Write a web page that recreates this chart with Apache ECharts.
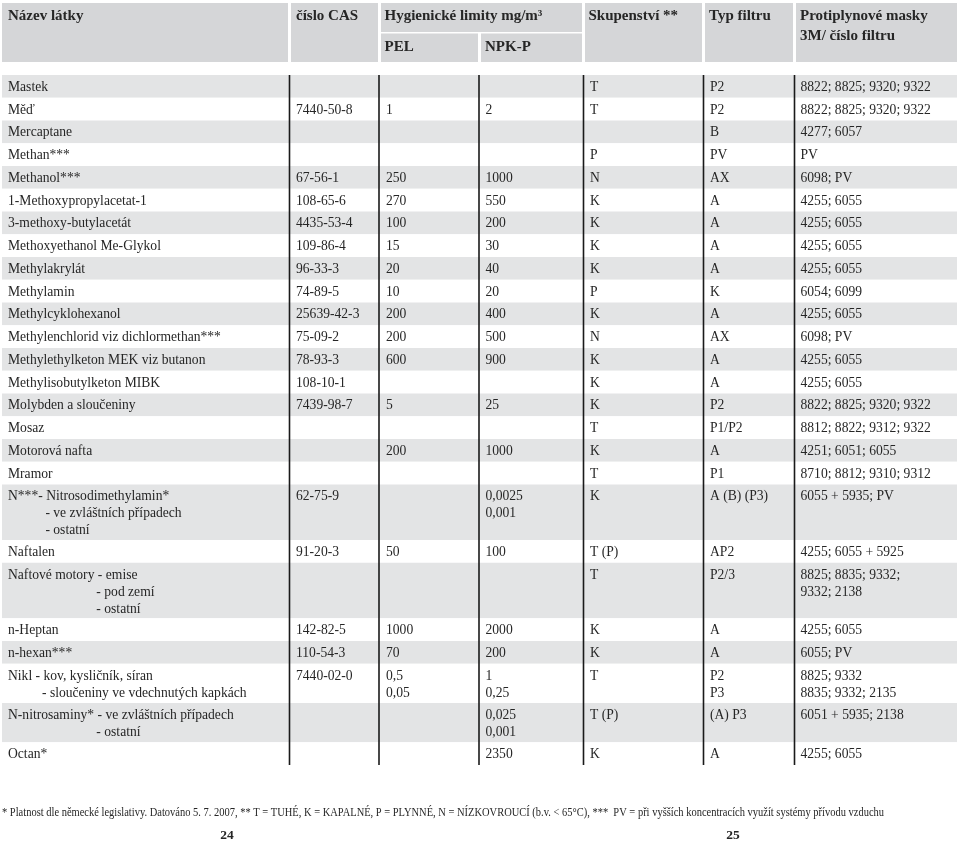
<!DOCTYPE html>
<html><head><meta charset="utf-8">
<script src="https://cdn.jsdelivr.net/npm/echarts@6/dist/echarts.min.js"></script>
<style>html,body{margin:0;padding:0;background:#fff}#c{width:960px;height:843px}</style>
</head><body><div id="c"></div>
<script>
// ---------------- DATA ----------------
const HEADER_MAIN = ["Název látky", "číslo CAS", "Hygienické limity mg/m³", "Skupenství **", "Typ filtru", "Protiplynové masky\n3M/ číslo filtru"];
const HEADER_SUB = ["PEL", "NPK-P"];

const NAMES = [
  "Mastek", "Měď", "Mercaptane", "Methan***", "Methanol***", "1-Methoxypropylacetat-1",
  "3-methoxy-butylacetát", "Methoxyethanol Me-Glykol", "Methylakrylát", "Methylamin",
  "Methylcyklohexanol", "Methylenchlorid viz dichlormethan***", "Methylethylketon MEK viz butanon",
  "Methylisobutylketon MIBK", "Molybden a sloučeniny", "Mosaz", "Motorová nafta", "Mramor",
  "N***- Nitrosodimethylamin*\n           - ve zvláštních případech\n           - ostatní",
  "Naftalen",
  "Naftové motory - emise\n                          - pod zemí\n                          - ostatní",
  "n-Heptan", "n-hexan***",
  "Nikl - kov, kysličník, síran\n          - sloučeniny ve vdechnutých kapkách",
  "N-nitrosaminy* - ve zvláštních případech\n                          - ostatní",
  "Octan*"
];
const CAS = ["", "7440-50-8", "", "", "67-56-1", "108-65-6", "4435-53-4", "109-86-4", "96-33-3", "74-89-5",
  "25639-42-3", "75-09-2", "78-93-3", "108-10-1", "7439-98-7", "", "", "", "62-75-9", "91-20-3", "",
  "142-82-5", "110-54-3", "7440-02-0", "", ""];
const PEL = ["", "1", "", "", "250", "270", "100", "15", "20", "10", "200", "200", "600", "", "5", "", "200", "",
  "", "50", "", "1000", "70", "0,5\n0,05", "", ""];
const NPK_P = ["", "2", "", "", "1000", "550", "200", "30", "40", "20", "400", "500", "900", "", "25", "", "1000", "",
  "0,0025\n0,001", "100", "", "2000", "200", "1\n0,25", "0,025\n0,001", "2350"];
const SKUPENSTVI = ["T", "T", "", "P", "N", "K", "K", "K", "K", "P", "K", "N", "K", "K", "K", "T", "K", "T",
  "K", "T (P)", "T", "K", "K", "T", "T (P)", "K"];
const TYP_FILTRU = ["P2", "P2", "B", "PV", "AX", "A", "A", "A", "A", "K", "A", "AX", "A", "A", "P2", "P1/P2", "A", "P1",
  "A (B) (P3)", "AP2", "P2/3", "A", "A", "P2\nP3", "(A) P3", "A"];
const MASKY = ["8822; 8825; 9320; 9322", "8822; 8825; 9320; 9322", "4277; 6057", "PV", "6098; PV", "4255; 6055",
  "4255; 6055", "4255; 6055", "4255; 6055", "6054; 6099", "4255; 6055", "6098; PV", "4255; 6055", "4255; 6055",
  "8822; 8825; 9320; 9322", "8812; 8822; 9312; 9322", "4251; 6051; 6055", "8710; 8812; 9310; 9312",
  "6055 + 5935; PV", "4255; 6055 + 5925", "8825; 8835; 9332;\n9332; 2138", "4255; 6055", "6055; PV",
  "8825; 9332\n8835; 9332; 2135", "6051 + 5935; 2138", "4255; 6055"];

const FOOTNOTE = "* Platnost dle německé legislativy. Datováno 5. 7. 2007, ** T = TUHÉ, K = KAPALNÉ, P = PLYNNÉ, N = NÍZKOVROUCÍ (b.v. < 65°C), ***  PV = při vyšších koncentracích využít systémy přívodu vzduchu";
const PAGE_NUMBERS = ["24", "25"];

// ---------------- LAYOUT ----------------
const COLUMNS = [NAMES, CAS, PEL, NPK_P, SKUPENSTVI, TYP_FILTRU, MASKY];
const FONT = '"Liberation Serif", "Times New Roman", serif';
const TABLE_L = 2, TABLE_R = 957;
const COL_LINES = [289.5, 379, 479, 583.5, 703.5, 794.5];
const COL_TEXT_X = [8, 296, 386, 485.5, 590, 710, 800.5];
const DATA_TOP = 75;
const ROW_H1 = 22.75, ROW_EXTRA = 16.4, TEXT_STEP = 17, TEXT_OFF = 12.2;
const GRAY_ROW = '#e3e4e5', GRAY_HEAD = '#d5d6d8', TXT = '#262626';
const HEADER_BOXES = [ // [x0,x1,y0,y1]
  [2, 288, 3, 62], [291, 378, 3, 62], [381, 582, 3, 32], [381, 478, 33.5, 62], [481, 582, 33.5, 62],
  [585, 702, 3, 62], [705, 793, 3, 62], [796, 957, 3, 62]
];
const HEADER_TEXTS = [HEADER_MAIN[0], HEADER_MAIN[1], HEADER_MAIN[2], HEADER_SUB[0], HEADER_SUB[1], HEADER_MAIN[3], HEADER_MAIN[4], HEADER_MAIN[5]];
const HEADER_PAD = [6, 5, 3.5, 3.5, 4, 3.5, 4, 4];

// row geometry derived from the number of text lines in each row
const rowLines = NAMES.map((_, i) => Math.max(...COLUMNS.map(c => c[i].split('\n').length)));
const rowTop = [];
let acc = DATA_TOP;
rowLines.forEach((n, i) => { rowTop.push(acc); acc += ROW_H1 + (n - 1) * ROW_EXTRA; });
const DATA_BOTTOM = acc;
const rowH = rowLines.map(n => ROW_H1 + (n - 1) * ROW_EXTRA);

const chart = echarts.init(document.getElementById('c'), null, {renderer: 'canvas'});

// footnote width fit (narrow font in original)
const FN_FONT = '12px ' + FONT;
const mctx = document.createElement('canvas').getContext('2d');
mctx.font = FN_FONT;
const fnW = mctx.measureText(FOOTNOTE).width;
const FN_SCALE = 882 / fnW;

const option = {
  backgroundColor: '#ffffff',
  animation: false,
  grid: {left: 0, right: 0, top: 0, bottom: 0},
  xAxis: {type: 'value', min: 0, max: 960, show: false},
  yAxis: {type: 'value', min: 0, max: 843, inverse: true, show: false},
  series: [
    { // header cells
      type: 'custom', silent: true,
      data: HEADER_TEXTS.map((t, i) => [i]),
      renderItem: (params, api) => {
        const i = params.dataIndex, b = HEADER_BOXES[i];
        const p0 = api.coord([b[0], b[2]]), p1 = api.coord([b[1], b[3]]);
        const lines = HEADER_TEXTS[i].split('\n');
        const children = [{type: 'rect', shape: {x: p0[0], y: p0[1], width: p1[0] - p0[0], height: p1[1] - p0[1]}, style: {fill: GRAY_HEAD}}];
        lines.forEach((ln, k) => {
          const tp = api.coord([b[0] + HEADER_PAD[i], b[2] + 13.5 + k * 20]);
          children.push({type: 'text', x: tp[0], y: tp[1], style: {text: ln, font: 'bold 15px ' + FONT, fill: TXT, textAlign: 'left', textVerticalAlign: 'middle'}});
        });
        return {type: 'group', children};
      }
    },
    { // row backgrounds
      type: 'custom', silent: true,
      data: NAMES.map((_, i) => [i]),
      renderItem: (params, api) => {
        const i = params.dataIndex;
        const p0 = api.coord([TABLE_L, rowTop[i]]), p1 = api.coord([TABLE_R, rowTop[i] + rowH[i]]);
        return {type: 'rect', shape: {x: p0[0], y: p0[1], width: p1[0] - p0[0], height: p1[1] - p0[1]}, style: {fill: i % 2 === 0 ? GRAY_ROW : '#ffffff'}};
      }
    },
    { // column separators
      type: 'custom', silent: true, z: 3,
      data: COL_LINES.map((_, k) => [k]),
      renderItem: (params, api) => {
        const x = COL_LINES[params.dataIndex];
        const p0 = api.coord([x, DATA_TOP]), p1 = api.coord([x, DATA_BOTTOM]);
        return {type: 'line', shape: {x1: p0[0], y1: p0[1], x2: p1[0], y2: p1[1]}, style: {stroke: '#1a1a1a', lineWidth: 1.6}};
      }
    },
    { // cell texts
      type: 'custom', silent: true, z: 4,
      data: (() => { const d = []; NAMES.forEach((_, i) => COLUMNS.forEach((c, j) => { if (c[i]) d.push([j, i]); })); return d; })(),
      renderItem: (params, api) => {
        const j = api.value(0), i = api.value(1);
        const lines = COLUMNS[j][i].split('\n');
        return {type: 'group', children: lines.map((ln, k) => {
          const p = api.coord([COL_TEXT_X[j], rowTop[i] + TEXT_OFF + k * TEXT_STEP]);
          return {type: 'text', x: p[0], y: p[1], style: {text: ln, font: '13.6px ' + FONT, fill: TXT, textAlign: 'left', textVerticalAlign: 'middle'}};
        })};
      }
    },
    { // footnote
      type: 'custom', silent: true,
      data: [[0]],
      renderItem: (params, api) => {
        const p = api.coord([2, 813]);
        return {type: 'text', x: p[0], y: p[1], scaleX: FN_SCALE, style: {text: FOOTNOTE, font: FN_FONT, fill: TXT, textAlign: 'left', textVerticalAlign: 'middle'}};
      }
    },
    { // page numbers
      type: 'custom', silent: true,
      data: PAGE_NUMBERS.map((_, k) => [k]),
      renderItem: (params, api) => {
        const cx = [227, 733][params.dataIndex];
        const p = api.coord([cx, 836]);
        return {type: 'text', x: p[0], y: p[1], style: {text: PAGE_NUMBERS[params.dataIndex], font: 'bold 13.5px ' + FONT, fill: TXT, textAlign: 'center', textVerticalAlign: 'middle'}};
      }
    }
  ]
};
chart.setOption(option);
</script>
</body></html>
